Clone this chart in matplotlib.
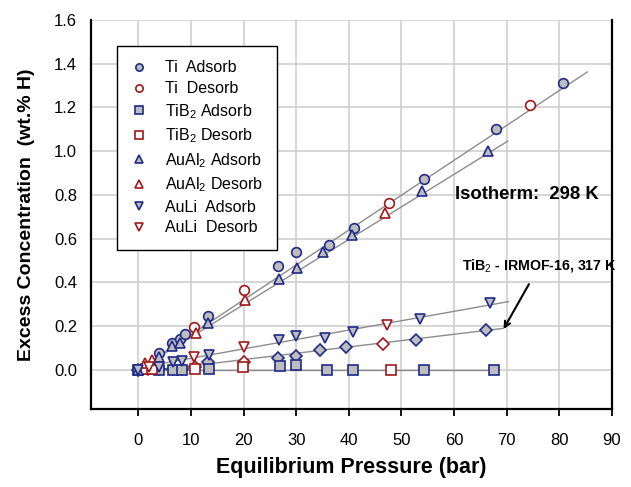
import matplotlib
matplotlib.use("Agg")
import numpy as np
import matplotlib.pyplot as plt

plt.rcParams.update({
    "font.family": ["Liberation Sans", "DejaVu Sans"],
    "mathtext.fontset": "custom",
    "mathtext.rm": "Liberation Sans",
    "mathtext.it": "Liberation Sans:italic",
    "mathtext.bf": "Liberation Sans:bold",
})

# ---- data ----
ti_ads_x = [0, 3.9, 6.4, 7.9, 8.9, 13.2, 26.6, 30.0, 36.2, 40.9, 54.2, 67.9, 80.7]
ti_ads_y = [0, 0.075, 0.122, 0.14, 0.163, 0.247, 0.476, 0.537, 0.569, 0.649, 0.874, 1.103, 1.313]
ti_des_x = [1.5, 10.5, 20.0, 47.7, 74.4]
ti_des_y = [0.01, 0.194, 0.366, 0.764, 1.211]

tib2_ads_x = [0, 3.9, 6.6, 8.2, 13.4, 26.9, 29.9, 35.8, 40.7, 54.2, 67.6]
tib2_ads_y = [0, 0, 0, 0, 0.002, 0.015, 0.02, 0, 0, 0, 0]
tib2_des_x = [1.5, 2.5, 10.7, 19.9, 48.1]
tib2_des_y = [0.005, 0.005, 0.003, 0.013, 0.0]

aual2_ads_x = [0, 3.9, 6.4, 7.9, 13.3, 26.8, 30.1, 35.1, 40.5, 53.9, 66.5]
aual2_ads_y = [0, 0.058, 0.107, 0.122, 0.214, 0.417, 0.463, 0.539, 0.618, 0.817, 1.0]
aual2_des_x = [1.2, 2.6, 10.9, 20.2, 46.9]
aual2_des_y = [0.03, 0.046, 0.168, 0.32, 0.715]

auli_ads_x = [0, 3.9, 6.6, 8.2, 13.4, 26.7, 29.9, 35.4, 40.7, 53.6, 66.8]
auli_ads_y = [0, 0.01, 0.034, 0.038, 0.069, 0.137, 0.156, 0.145, 0.171, 0.232, 0.305]
auli_des_x = [2.0, 10.6, 20.0, 47.2]
auli_des_y = [0.01, 0.058, 0.104, 0.203]

irmof_ads_x = [0, 3.9, 6.6, 8.2, 13.2, 26.6, 29.9, 34.5, 39.4, 52.7, 66.0]
irmof_ads_y = [0, 0.003, 0.005, 0.005, 0.035, 0.053, 0.061, 0.089, 0.102, 0.134, 0.183]
irmof_des_x = [1.8, 10.7, 20.1, 46.4]
irmof_des_y = [0.005, 0.01, 0.036, 0.119]

# linear fits: slope, intercept, x range end
fit_slope = [0.01597, 0.0149, 0.0043, 0.0029, 0.0]
fit_icept = [0.0, 0.0, 0.009, -0.012, 0.0]
fit_xend = [85.3, 70.2, 70.3, 69.4, 68.4]

BLUE = "#1f2a8a"
RED = "#a01818"
GRAY = "#bdbdbd"

fig = plt.figure(figsize=(6.31, 4.87), dpi=100)
ax = fig.add_axes([91 / 631, 1 - 409 / 487, 521 / 631, 389 / 487])

for m, b, xe in zip(fit_slope, fit_icept, fit_xend):
    xs = np.array([0, xe])
    ax.plot(xs, m * xs + b, color="#8c8c8c", lw=1.0, zorder=2)

ms = 7
mew = 1.2
ads = dict(ls="none", ms=ms, mew=mew, mec=BLUE, mfc=GRAY, zorder=3)
des = dict(ls="none", ms=ms, mew=mew, mec=RED, mfc="white", zorder=3)

ax.plot(irmof_ads_x, irmof_ads_y, "D", **dict(ads, ms=6.5))
ax.plot(irmof_des_x, irmof_des_y, "D", **dict(des, ms=6.5))

series = [
    (ti_ads_x, ti_ads_y, "o", ads, "Ti  Adsorb"),
    (ti_des_x, ti_des_y, "o", des, "Ti  Desorb"),
    (tib2_ads_x, tib2_ads_y, "s", ads, r"TiB$_2$ Adsorb"),
    (tib2_des_x, tib2_des_y, "s", des, r"TiB$_2$ Desorb"),
    (aual2_ads_x, aual2_ads_y, "^", ads, r"AuAl$_2$ Adsorb"),
    (aual2_des_x, aual2_des_y, "^", des, r"AuAl$_2$ Desorb"),
    (auli_ads_x, auli_ads_y, "v", ads, "AuLi  Adsorb"),
    (auli_des_x, auli_des_y, "v", des, "AuLi  Desorb"),
]
for xs, ys, mk, st, lab in series:
    ax.plot(xs, ys, mk, label=lab, **st)

ax.set_xlim(-9, 90)
ax.set_ylim(-0.18, 1.6)
ax.set_xticks(np.arange(0, 91, 10))
ax.set_yticks(np.arange(0, 1.61, 0.2))
ax.set_yticklabels([f"{v:.1f}" for v in np.arange(0, 1.61, 0.2)])
ax.grid(True, color="#cfcfcf", lw=1.2, zorder=0)
ax.set_axisbelow(True)
ax.tick_params(axis="x", direction="out", length=5, width=1.3, pad=12, labelsize=12)
ax.tick_params(axis="y", length=0, pad=10, labelsize=12)
for s in ["left", "bottom", "right"]:
    ax.spines[s].set_linewidth(1.6)
ax.spines["top"].set_visible(False)

ax.set_xlabel("Equilibrium Pressure (bar)", fontsize=15.5, fontweight="bold", labelpad=7)
ax.set_ylabel("Excess Concentration  (wt.% H)", fontsize=14, fontweight="bold", labelpad=14)

leg = ax.legend(loc="upper left", bbox_to_anchor=(0.05, 0.933), borderaxespad=0,
                fontsize=11.5, handlelength=1.0, handletextpad=1.1, borderpad=0.9,
                labelspacing=0.36, markerscale=0.75, fancybox=False, framealpha=1,
                edgecolor="black")
leg.get_frame().set_linewidth(1.0)

ax.text(60.2, 0.80, "Isotherm:  298 K", fontsize=13.3, fontweight="bold", va="center")
ax.annotate(r"TiB$_2$ - IRMOF-16, 317 K", xy=(69.4, 0.186), xytext=(76.2, 0.476),
            fontsize=10.2, fontweight="bold", ha="center", va="center",
            arrowprops=dict(arrowstyle="->", color="black", lw=1.5,
                            shrinkA=6, shrinkB=0))

fig.savefig("out.png", dpi=100)
